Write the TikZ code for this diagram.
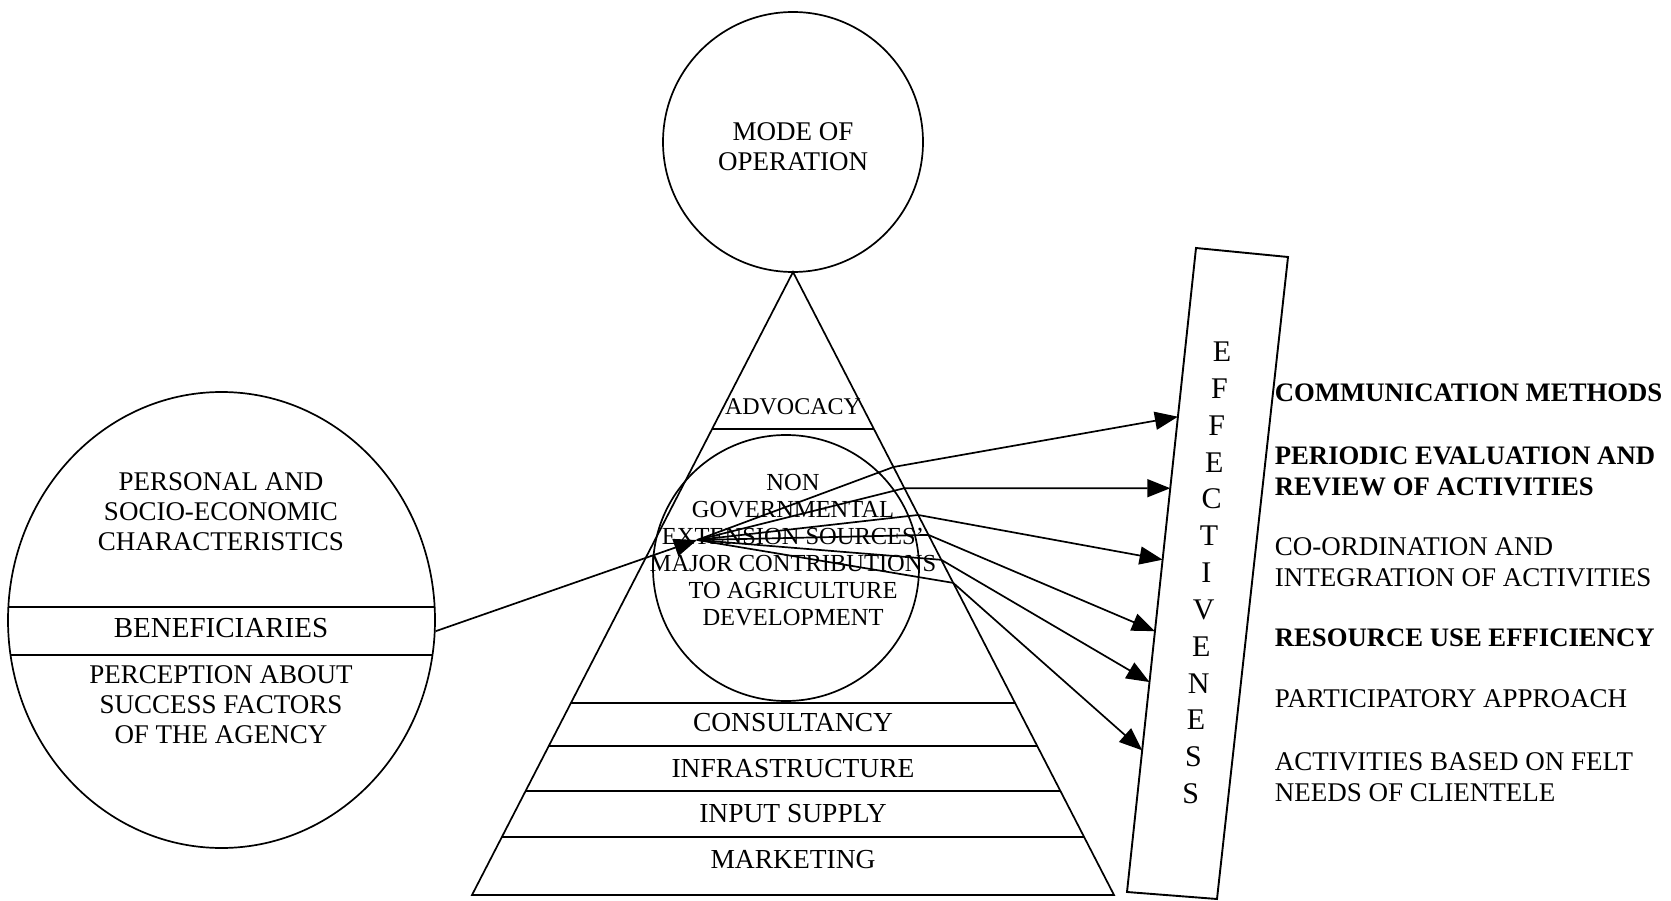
\documentclass[tikz,border=0pt]{standalone}
\usepackage{fontspec}
\setmainfont{Liberation Serif}
\usetikzlibrary{arrows.meta,calc,shapes.geometric}
\begin{document}
\begin{tikzpicture}[x=1pt,y=-1pt,line width=1.7pt,
  lbl/.style={font=\fontsize{27}{30}\selectfont, align=center, inner sep=0pt},
  plbl/.style={font=\fontsize{27.5}{30}\selectfont, align=center, inner sep=0pt},
  slbl/.style={font=\fontsize{24.5}{27}\selectfont, align=center, inner sep=0pt},
  rlbl/.style={font=\fontsize{27}{31}\selectfont, align=left, anchor=west, inner sep=0pt},
  rbold/.style={font=\fontsize{26.7}{31}\selectfont\bfseries, align=left, anchor=west, inner sep=0pt},
  letter/.style={font=\fontsize{30}{30}\selectfont, inner sep=0pt},
  arr/.style={-{Triangle[length=23pt,width=18pt]}},
]
\useasboundingbox (0,0) rectangle (1671,901);

% top circle
\node[circle, draw, minimum size=260pt, inner sep=0pt] (mode) at (793,142) {};
\node[lbl] (modet) at (793,147) {MODE OF\\OPERATION};

% pyramid
\coordinate (apex) at (793,272);
\coordinate (bl) at (472,895);
\coordinate (br) at (1114,895);
\draw (apex) -- (br) -- (bl) -- cycle;
\foreach \t in {0.252,0.692,0.761,0.833,0.907}
  \draw ($(apex)!\t!(bl)$) -- ($(apex)!\t!(br)$);
\node[font=\fontsize{24}{28}\selectfont, inner sep=0pt] (adv) at (793,407) {ADVOCACY};
\node[plbl] (cons) at (793,723) {CONSULTANCY};
\node[plbl] (infra) at (793,769) {INFRASTRUCTURE};
\node[plbl] (input) at (793,814) {INPUT SUPPLY};
\node[plbl] (mark) at (793,860) {MARKETING};

% inner circle
\node[circle, draw, minimum size=266pt, inner sep=0pt] (ngo) at (786,568) {};
\node[slbl] (ngot) at (793,550) {NON\\GOVERNMENTAL\\EXTENSION SOURCES'\\MAJOR CONTRIBUTIONS\\TO AGRICULTURE\\DEVELOPMENT};

% left ellipse
\node[ellipse, draw, minimum width=427pt, minimum height=456pt, inner sep=0pt] (ben) at (221.5,620) {};
\begin{scope}
  \clip (221.5,620) ellipse [x radius=213.5, y radius=228];
  \draw (0,607) -- (450,607);
  \draw (0,655) -- (450,655);
\end{scope}
\node[lbl] (pers) at (221,512) {PERSONAL AND\\SOCIO-ECONOMIC\\CHARACTERISTICS};
\node[font=\fontsize{29}{30}\selectfont, inner sep=0pt] (bent) at (221,628) {BENEFICIARIES};
\node[lbl] (perc) at (221,705) {PERCEPTION ABOUT\\SUCCESS FACTORS\\OF THE AGENCY};

% effectiveness box
\coordinate (rTL) at (1196,248);
\coordinate (rTR) at (1288,257);
\coordinate (rBR) at (1217,899);
\coordinate (rBL) at (1127,892);
\draw[line width=1.9pt] (rTL) -- (rTR) -- (rBR) -- (rBL) -- cycle;
\foreach \l [count=\i from 0] in {E,F,F,E,C,T,I,V,E,N,E,S,S}
  \node[letter] (L\i) at ({1222-2.6*\i},{352+36.8*\i}) {\l};

% right labels
\node[rbold] (c1) at (1274,393) {COMMUNICATION METHODS};
\node[rbold] (c2) at (1274,471) {PERIODIC EVALUATION AND\\REVIEW OF ACTIVITIES};
\node[rlbl] (c3) at (1274,562) {CO-ORDINATION AND\\INTEGRATION OF ACTIVITIES};
\node[rbold] (c4) at (1274,638) {RESOURCE USE EFFICIENCY};
\node[rlbl] (c5) at (1274,699) {PARTICIPATORY APPROACH};
\node[rlbl] (c6) at (1274,777) {ACTIVITIES BASED ON FELT\\NEEDS OF CLIENTELE};

% connectors
\coordinate (P) at (697,540);
\draw[arr] (ben.-3) -- (P);
\foreach \k/\tk/\tt in {1/0.313/0.262, 2/0.347/0.373, 3/0.390/0.484, 4/0.422/0.595, 5/0.462/0.674, 6/0.499/0.780}{
  \coordinate (K\k) at ($(apex)!\tk!(br)$);
  \coordinate (T\k) at ($(rTL)!\tt!(rBL)$);
  \draw[arr] (P) -- (K\k) -- (T\k);
}
\end{tikzpicture}
\end{document}
